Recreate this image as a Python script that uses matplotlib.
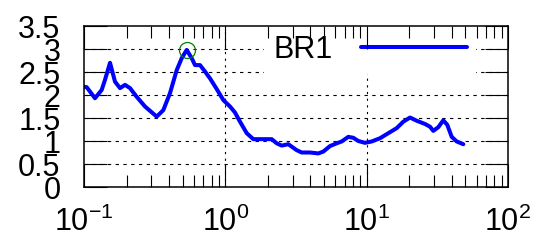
import matplotlib
matplotlib.use("Agg")
from matplotlib import pyplot as plt
from matplotlib.ticker import FixedLocator, LogLocator, NullFormatter

plt.rcParams['font.family'] = ['Liberation Sans', 'DejaVu Sans']
plt.rcParams['mathtext.default'] = 'regular'

# BR1 curve
freq = [0.1, 0.1045, 0.1196, 0.1334, 0.1408, 0.1528, 0.1657, 0.1798, 0.1951, 0.2116,
        0.236, 0.2702, 0.3269, 0.364, 0.4059, 0.4529, 0.4913, 0.5331, 0.5782, 0.6102,
        0.662, 0.7181, 0.7792, 0.8687, 0.9674, 1.079, 1.17, 1.27, 1.417, 1.578,
        1.857, 2.129, 2.309, 2.505, 2.79, 3.199, 3.471, 3.972, 4.548, 4.934,
        5.504, 6.138, 6.659, 7.416, 8.043, 8.727, 9.735, 10.86, 12.43, 14.23,
        16.32, 18.17, 20.27, 22.6, 25.88, 28.07, 29.61, 32.13, 34.85, 37.2,
        39.97, 43.36, 48.3]
br1 = [2.18, 2.17, 1.93, 2.11, 2.33, 2.70, 2.29, 2.15, 2.22, 2.15,
       1.96, 1.75, 1.53, 1.67, 2.04, 2.54, 2.80, 2.98, 2.80, 2.65,
       2.65, 2.51, 2.36, 2.13, 1.89, 1.75, 1.62, 1.42, 1.17, 1.04,
       1.04, 1.04, 0.95, 0.90, 0.93, 0.80, 0.75, 0.75, 0.73, 0.77,
       0.89, 0.95, 0.99, 1.09, 1.07, 1.00, 0.96, 0.99, 1.06, 1.17,
       1.28, 1.42, 1.51, 1.44, 1.37, 1.31, 1.22, 1.30, 1.45, 1.35,
       1.09, 0.99, 0.93]
peak_x = [0.5331]
peak_y = [2.98]

yticks = [0, 0.5, 1, 1.5, 2, 2.5, 3, 3.5]
xticks = [0.1, 1, 10, 100]

fig = plt.figure(figsize=(5.37, 2.43), dpi=100)
ax = fig.add_axes([84 / 537, 1 - 187 / 243, 424 / 537, 161 / 243])

ax.set_xscale('log')
ax.set_xlim(0.1, 100)
ax.set_ylim(0, 3.5)

# gnuplot style grid: dashed horizontals, dotted verticals at decades
for y in yticks[1:-1]:
    ax.axhline(y, color='black', lw=0.8, ls=(0, (3, 4)), zorder=1)
for x in xticks[1:-1]:
    ax.axvline(x, color='black', lw=0.8, ls=(0, (2, 4)), zorder=1)

ax.plot(freq, br1, color='#0000ff', lw=2.9, label='BR1', zorder=2,
        solid_joinstyle='round', solid_capstyle='round')
ax.plot(peak_x, peak_y, 'o', mfc='none', mec='#008000', ms=11.5, mew=0.9, zorder=3)

ax.yaxis.set_major_locator(FixedLocator(yticks))
ax.set_yticklabels(['0', '0.5', '1', '1.5', '2', '2.5', '3', '3.5'])
ax.xaxis.set_major_locator(FixedLocator(xticks))
ax.xaxis.set_minor_locator(LogLocator(base=10, subs=range(2, 10), numticks=20))
ax.xaxis.set_minor_formatter(NullFormatter())

ax.tick_params(which='both', direction='in', top=True, right=True, width=0.8,
               labelsize=22)
ax.tick_params(which='major', length=16.5)
ax.tick_params(which='minor', length=8.5)
ax.tick_params(axis='y', pad=17)
ax.tick_params(axis='x', pad=14)
for s in ax.spines.values():
    s.set_linewidth(1.1)

leg = ax.legend(loc='upper right', bbox_to_anchor=(0.925, 1.0), markerfirst=False,
                fontsize=22, frameon=True, fancybox=False, borderpad=0.3,
                borderaxespad=0, handlelength=3.46, handletextpad=0.95)
leg.get_frame().set_facecolor('white')
leg.get_frame().set_edgecolor('none')
leg.get_frame().set_alpha(1)
leg.set_zorder(1.2)

plt.savefig('out.png', dpi=100)
